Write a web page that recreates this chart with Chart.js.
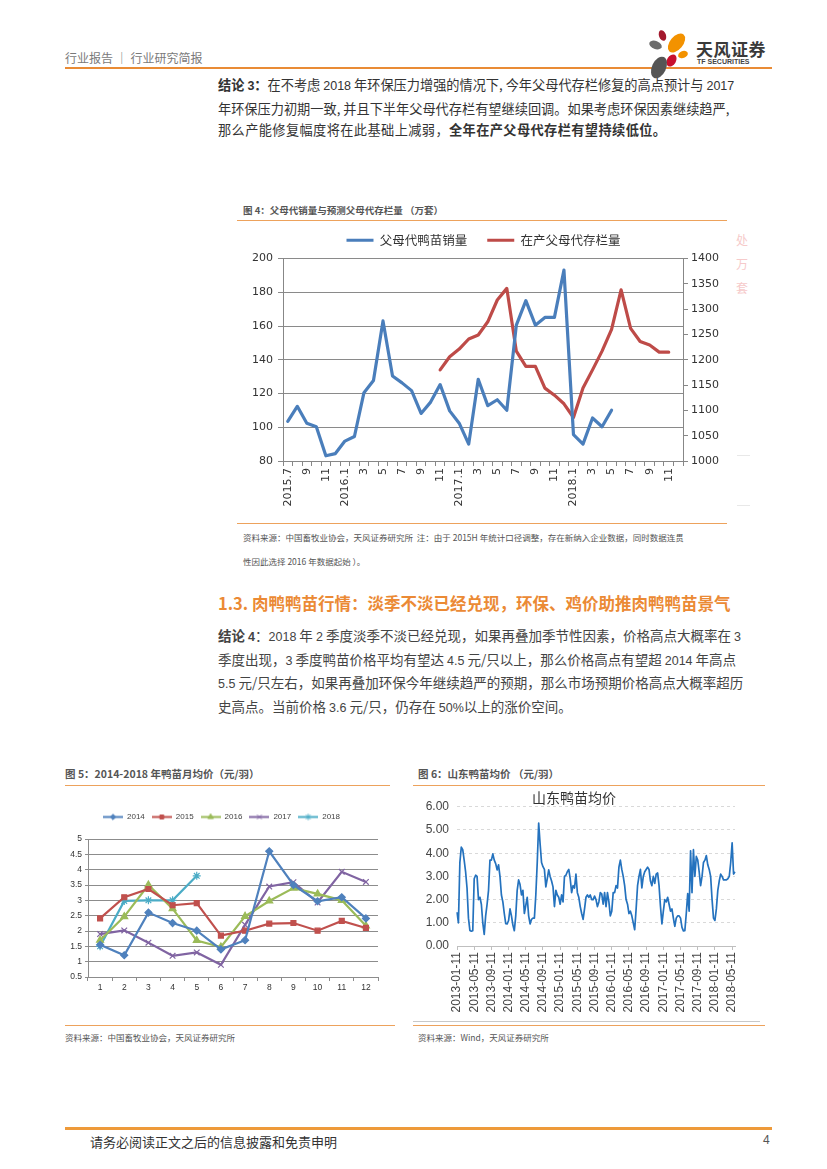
<!DOCTYPE html>
<html><head><meta charset="utf-8">
<script src="https://cdn.jsdelivr.net/npm/chart.js@4.4.0/dist/chart.umd.min.js"></script>
<style>
html,body{margin:0;padding:0;background:#fff;}
body{width:827px;height:1169px;position:relative;overflow:hidden;font-family:"Noto Sans CJK SC","Noto Sans",sans-serif;color:#333;}
.a{position:absolute;white-space:nowrap;}
.ol{position:absolute;background:#EDA25C;height:1px;}
.p{position:absolute;left:218px;width:509px;}
.p div{text-align:justify;text-align-last:justify;white-space:nowrap;}
.p div.last{text-align-last:left;}
.p1{font-size:13.2px;line-height:21.5px;color:#333;top:74px;}
.p2{font-size:13.5px;line-height:21.5px;color:#444;top:625px;}
.num{font-family:"Liberation Sans",Arial,sans-serif;font-size:12.5px;}
.petal{position:absolute;border-radius:50%;}
canvas{position:absolute;}
</style></head>
<body>
<!-- header -->
<div class="a" style="left:65px;top:49px;font-size:12px;color:#7a7a7a;">行业报告 ｜ 行业研究简报</div>
<div class="a" style="left:65px;top:67px;width:707px;height:2px;background:#E98B35;"></div>
<div class="petal" style="left:659px;top:30px;width:7px;height:11px;background:#A3192E;transform:rotate(-20deg);"></div>
<div class="petal" style="left:670px;top:32px;width:13px;height:22px;background:#F39200;transform:rotate(40deg);"></div>
<div class="petal" style="left:649px;top:41px;width:13px;height:8px;background:#6d6d6d;transform:rotate(20deg);"></div>
<div class="petal" style="left:678px;top:51px;width:10px;height:7px;background:#F39200;transform:rotate(-20deg);"></div>
<div class="petal" style="left:667px;top:54px;width:9px;height:13px;background:#C8102E;transform:rotate(30deg);"></div>
<div class="petal" style="left:652px;top:56px;width:14px;height:23px;background:#555;transform:rotate(25deg);"></div>
<div class="a" style="left:696px;top:36px;font-size:17px;font-weight:bold;color:#3a3a3a;letter-spacing:0.5px;">天风证券</div>
<div class="a" style="left:697px;top:58px;font-size:7px;font-weight:bold;color:#444;font-family:'Liberation Sans',Arial,sans-serif;">TF SECURITIES</div>

<!-- paragraph 1 -->
<div class="p p1">
<div><b>结论 <span class="num">3</span>：</b>在不考虑 <span class="num">2018</span> 年环保压力增强的情况下, 今年父母代存栏修复的高点预计与 <span class="num">2017</span></div>
<div>年环保压力初期一致, 并且下半年父母代存栏有望继续回调。如果考虑环保因素继续趋严,</div>
<div class="last" style="letter-spacing:0.4px;">那么产能修复幅度将在此基础上减弱，<b>全年在产父母代存栏有望持续低位。</b></div>
</div>

<!-- figure 4 -->
<div class="a" style="left:243px;top:203px;font-size:9.5px;font-weight:bold;color:#555;">图 4：父母代销量与预测父母代存栏量 （万套）</div>
<div class="ol" style="left:237px;top:220px;width:490px;"></div>
<div class="a" style="left:736px;top:228px;font-size:12px;color:#f6caca;line-height:24px;">处<br>万<br>套</div>
<div class="a" style="left:737px;top:455px;width:13px;height:1px;background:#e8e8e8;"></div>
<div class="a" style="left:737px;top:505px;width:13px;height:1px;background:#e8e8e8;"></div>
<canvas id="c4" width="493" height="297" style="left:237px;top:214px;"></canvas>
<div class="ol" style="left:237px;top:523px;width:490px;"></div>
<div class="a" style="left:243px;top:525px;font-size:8.5px;line-height:24px;color:#555;">资料来源：中国畜牧业协会，天风证券研究所&nbsp; 注：由于 2015H 年统计口径调整，存在新纳入企业数据，同时数据连贯<br>性因此选择 2016 年数据起始 ）。</div>

<!-- section heading -->
<div class="a" style="left:218px;top:592px;font-size:16.5px;font-weight:bold;color:#EB8A35;line-height:22px;">1.3. 肉鸭鸭苗行情：淡季不淡已经兑现，环保、鸡价助推肉鸭鸭苗景气</div>

<!-- paragraph 2 -->
<div class="p p2">
<div><b>结论 <span class="num">4</span></b>：<span class="num">2018</span> 年 <span class="num">2</span> 季度淡季不淡已经兑现，如果再叠加季节性因素，价格高点大概率在 <span class="num">3</span></div>
<div>季度出现，<span class="num">3</span> 季度鸭苗价格平均有望达 <span class="num">4.5</span> 元/只以上，那么价格高点有望超 <span class="num">2014</span> 年高点</div>
<div><span class="num">5.5</span> 元/只左右，如果再叠加环保今年继续趋严的预期，那么市场预期价格高点大概率超历</div>
<div class="last">史高点。当前价格 <span class="num">3.6</span> 元/只，仍存在 <span class="num">50%</span>以上的涨价空间。</div>
</div>

<!-- figure 5 -->
<div class="a" style="left:65px;top:766px;font-size:10.5px;font-weight:bold;color:#555;">图 5：2014-2018 年鸭苗月均价（元/羽）</div>
<div class="ol" style="left:65px;top:785px;width:325px;"></div>
<canvas id="c5" width="325" height="193" style="left:65px;top:806px;"></canvas>
<div class="ol" style="left:65px;top:1025px;width:330px;"></div>
<div class="a" style="left:65px;top:1031px;font-size:8.5px;color:#555;">资料来源：中国畜牧业协会，天风证券研究所</div>

<!-- figure 6 -->
<div class="a" style="left:418px;top:766px;font-size:10.5px;font-weight:bold;color:#555;">图 6：山东鸭苗均价 （元/羽）</div>
<div class="ol" style="left:413px;top:785px;width:352px;"></div>
<canvas id="c6" width="352" height="234" style="left:413px;top:786px;"></canvas>
<div class="a" style="left:413px;top:1021px;width:347px;height:1px;background:#c8c8c8;"></div>
<div class="ol" style="left:413px;top:1025px;width:352px;"></div>
<div class="a" style="left:418px;top:1031px;font-size:8.5px;color:#555;">资料来源：Wind，天风证券研究所</div>

<!-- footer -->
<div class="a" style="left:65px;top:1127px;width:707px;height:3px;background:#EE9A3A;"></div>
<div class="a" style="left:90px;top:1132px;font-size:13px;color:#333;">请务必阅读正文之后的信息披露和免责申明</div>
<div class="a" style="left:763px;top:1133px;font-size:12px;color:#555;font-family:'Liberation Sans',Arial,sans-serif;">4</div>

<script>
// ---------- Figure 4 data ----------
const c4Labels = ['2015.7','8','9','10','11','12','2016.1','2','3','4','5','6','7','8','9','10','11','12',
  '2017.1','2','3','4','5','6','7','8','9','10','11','12','2018.1','2','3','4','5','6','7','8','9','10','11','12'];
const c4Sales = [103.5,112.4,102.4,100.3,83.1,84.4,
  91.8,94.5,120.5,127.7,163,130.4,126.3,121.7,108.2,114.9,125.3,109.7,
  102.4,90,128.4,112.8,116.3,110.1,160.5,175,160.5,165.1,165.1,193.1,
  95.6,90,105.5,100.3,110.1,null,null,null,null,null,null,null];
const c4Stock = [null,null,null,null,null,null,
  null,null,null,null,null,null,null,null,null,null,1180,1206,
  1221,1241,1249,1275,1318,1341,1217,1187,1187,1144,1130,1113,
  1086,1144,1180,1217,1260,1338,1262,1236,1229,1215,1215,null];
const c4Names = ['父母代鸭苗销量','在产父母代存栏量'];

// ---------- Figure 5 data ----------
const c5Months = ['1','2','3','4','5','6','7','8','9','10','11','12'];
const c5Years = ['2014','2015','2016','2017','2018'];
const p2014 = [1.55,1.21,2.6,2.26,2.01,1.4,1.7,4.6,3.5,2.97,3.1,2.41];
const p2015 = [2.41,3.1,3.37,2.84,2.91,1.85,2.01,2.24,2.26,2.01,2.33,2.1];
const p2016 = [1.7,2.47,3.5,2.73,1.69,1.48,2.48,2.98,3.4,3.21,3.0,2.17];
const p2017 = [1.9,2.02,1.62,1.19,1.3,0.9,2.2,3.45,3.59,2.93,3.93,3.6];
const p2018 = [1.5,2.98,3.0,3.0,3.8];

// ---------- Figure 6 data (dekad prices, 2013-01-11 .. 2018-05-31) ----------
const c6Start = [2013, 1, 11];
const c6Values = [
 1.46,1.0,3.6,4.26,4.15,3.7,3.2,2.5,1.2,0.67,0.64,0.66,2.9,3.05,3.0,2.0,2.1,1.8,1.0,0.5,1.3,1.8,2.4,3.7,3.7,3.97,3.7,3.55,3.28,3.5,3.0,2.2,1.9,1.4,0.96,0.95,
 1.1,1.6,1.3,0.9,0.66,1.3,2.4,2.85,2.65,2.2,2.4,1.4,1.75,2.1,1.3,0.95,1.15,1.2,1.2,2.2,3.6,5.3,4.4,3.6,3.42,3.3,2.55,2.9,3.28,3.0,2.8,2.55,1.7,2.4,2.2,2.1,
 1.8,2.2,1.9,3.0,3.05,3.2,3.3,2.9,2.3,2.6,2.5,3.1,2.3,2.1,1.7,1.4,1.15,1.6,2.1,2.2,2.1,2.2,2.0,2.0,2.15,2.0,1.7,1.9,2.3,2.25,1.8,2.3,1.7,2.3,1.9,1.3,
 1.5,2.3,2.3,2.6,2.5,3.4,3.7,3.3,3.0,2.6,2.0,1.8,1.4,1.5,1.3,1.0,0.7,1.6,2.6,3.0,3.3,2.5,3.0,3.2,3.3,3.4,3.3,2.8,2.6,3.0,2.7,3.1,3.15,2.6,1.7,0.95,
 1.5,2.0,1.9,2.1,1.8,1.5,1.6,1.2,0.85,1.2,1.3,1.3,1.2,0.8,0.65,0.66,1.4,2.26,1.5,4.1,2.3,4.15,3.0,3.86,3.7,3.2,2.6,3.0,3.6,3.7,3.9,3.5,3.3,3.0,2.0,1.2,
 1.1,1.6,2.4,2.8,3.1,3.0,2.85,2.85,2.85,2.9,3.0,3.6,4.45,3.1,3.2
];
const c6Title = '山东鸭苗均价';

// dekad labels
function dekadLabel(i){
  const days=[1,11,21];
  const k=i+1; const mo=(c6Start[1]-1)+Math.floor(k/3);
  const y=c6Start[0]+Math.floor(mo/12), m=mo%12+1, d=days[k%3];
  return y+'-'+String(m).padStart(2,'0')+'-'+String(d).padStart(2,'0');
}
const c6Labels = c6Values.map((v,i)=>dekadLabel(i));

const legendGap = gap => ({id:'legendGap', beforeInit(chart){ const lg=chart.legend; const orig=lg.fit; lg.fit=function(){ orig.call(this); this.height+=gap; }; }});

const CJK = "'Noto Sans CJK SC','Noto Sans',sans-serif";
const LIB = "'Liberation Sans',Arial,sans-serif";
const DJV = "'DejaVu Sans',Verdana,sans-serif";

// ---------- Chart 4 ----------
const c4Colors = ['#4A7EBB','#BE4B48'];
new Chart(document.getElementById('c4'), {
  type:'line',
  data:{labels:c4Labels, datasets:[
    {label:c4Names[0], data:c4Sales, yAxisID:'y', borderColor:c4Colors[0], backgroundColor:c4Colors[0], borderWidth:3.2, pointRadius:0, tension:0, borderJoinStyle:'round', borderCapStyle:'round'},
    {label:c4Names[1], data:c4Stock, yAxisID:'y2', borderColor:c4Colors[1], backgroundColor:c4Colors[1], borderWidth:3.2, pointRadius:0, tension:0, borderJoinStyle:'round', borderCapStyle:'round'}
  ]},
  options:{responsive:false, animation:false, events:[], layout:{padding:0},
    plugins:{tooltip:{enabled:false},
      legend:{labels:{font:{family:CJK,size:12.5}, color:'#333', boxWidth:27, boxHeight:3, padding:20,
        generateLabels:ch=>ch.data.datasets.map((d,i)=>({text:d.label, fillStyle:d.borderColor, strokeStyle:d.borderColor, lineWidth:0, datasetIndex:i, fontColor:'#333'}))}}},
    scales:{
      x:{offset:true, grid:{offset:true, drawOnChartArea:false, tickLength:5, color:'#878787'}, border:{color:'#878787'},
        ticks:{autoSkip:false, maxRotation:90, minRotation:90, padding:2, color:'#333', font:{family:DJV,size:11},
          callback(v,i){return i%2===0?this.getLabelForValue(v):'';}},
        afterFit(s){s.height=50;}},
      y:{position:'left', min:80, max:200, ticks:{stepSize:20, color:'#333', padding:5, font:{family:DJV,size:11}, callback:v=>String(v)},
        grid:{color:'#8a8a8a', tickLength:5}, border:{color:'#878787'}, afterFit(s){s.width=46;}},
      y2:{position:'right', min:1000, max:1400, ticks:{stepSize:50, color:'#333', padding:3, font:{family:DJV,size:11}, callback:v=>String(v)},
        grid:{drawOnChartArea:false, tickLength:5, color:'#878787'}, border:{color:'#878787'}, afterFit(s){s.width=47;}}
    }
  },
  plugins:[legendGap(2)]
});

// ---------- Chart 5 ----------
const c5Colors = ['#4F81BD','#C0504D','#9BBB59','#8064A2','#4BACC6'];
const c5Styles = ['rectRot','rect','triangle','crossRot','star'];
const c5Radius = [3.5,3.5,4,4,4];
const c5Data = [p2014,p2015,p2016,p2017,p2018];
function legendIcon(color, style, r){
  const cv=document.createElement('canvas'); cv.width=20; cv.height=9;
  const x=cv.getContext('2d'); x.strokeStyle=color; x.fillStyle=color; x.lineWidth=2;
  x.beginPath(); x.moveTo(0,4.5); x.lineTo(20,4.5); x.stroke();
  x.lineWidth=1;
  Chart.helpers.drawPoint(x,{pointStyle:style, radius:r*0.8, borderWidth:1, rotation:0},10,4.5);
  return cv;
}
const c5Icons = c5Colors.map((c,i)=>legendIcon(c,c5Styles[i],c5Radius[i]));
new Chart(document.getElementById('c5'), {
  type:'line',
  data:{labels:c5Months, datasets:c5Years.map((y,i)=>({label:y, data:c5Data[i], borderColor:c5Colors[i], backgroundColor:c5Colors[i],
    borderWidth:2.2, tension:0, pointStyle:c5Styles[i], pointRadius:c5Radius[i], pointBorderWidth:1.2,
    pointBackgroundColor:c5Colors[i], pointBorderColor:c5Colors[i]}))},
  options:{responsive:false, animation:false, events:[], layout:{padding:{right:12}},
    plugins:{tooltip:{enabled:false},
      legend:{labels:{font:{family:LIB,size:8}, color:'#444', usePointStyle:true, pointStyleWidth:20, padding:7,
        generateLabels:ch=>ch.data.datasets.map((d,i)=>({text:d.label, pointStyle:c5Icons[i], fillStyle:d.borderColor, strokeStyle:d.borderColor, lineWidth:0, datasetIndex:i, fontColor:'#444'}))}}},
    scales:{
      x:{offset:true, grid:{offset:true, drawOnChartArea:false, tickLength:4, color:'#8c8c8c'}, border:{color:'#8c8c8c'},
        ticks:{color:'#333', padding:2, font:{family:LIB,size:8.5}}, afterFit(s){s.height=22;}},
      y:{min:0.5, max:5, ticks:{stepSize:0.5, color:'#333', padding:3, font:{family:LIB,size:8.5}, callback:v=>String(Math.round(v*10)/10)},
        grid:{color:'#8c8c8c', tickLength:3}, border:{color:'#8c8c8c'}, afterFit(s){s.width=23;}}
    }
  },
  plugins:[legendGap(8)]
});

// ---------- Chart 6 ----------
new Chart(document.getElementById('c6'), {
  type:'line',
  data:{labels:c6Labels, datasets:[{label:c6Title, data:c6Values, borderColor:'#2472BE', borderWidth:1.7, pointRadius:0, tension:0, borderJoinStyle:'round'}]},
  options:{responsive:false, animation:false, events:[], layout:{padding:{right:30}},
    plugins:{tooltip:{enabled:false}, legend:{display:false},
      title:{display:true, text:c6Title, color:'#333', font:{family:CJK,size:14,weight:'normal'}, padding:{top:3,bottom:1}}},
    scales:{
      x:{grid:{drawOnChartArea:false, tickLength:4, color:ctx=>(ctx.index%12===0?'#bfbfbf':'rgba(0,0,0,0)')}, border:{color:'#bfbfbf'},
        ticks:{autoSkip:false, maxRotation:90, minRotation:90, padding:2, color:'#444', font:{family:LIB,size:12},
          callback(v,i){return i%12===0?this.getLabelForValue(v):'';}},
        afterFit(s){s.height=74;}},
      y:{min:0, max:6, ticks:{stepSize:1, color:'#444', padding:8, font:{family:LIB,size:12}, callback:v=>Number(v).toFixed(2)},
        grid:{color:'#d9d9d9', drawTicks:false}, border:{display:false, dash:[3,3]}, afterFit(s){s.width=44;}}
    }
  }
});
</script>
</body></html>
